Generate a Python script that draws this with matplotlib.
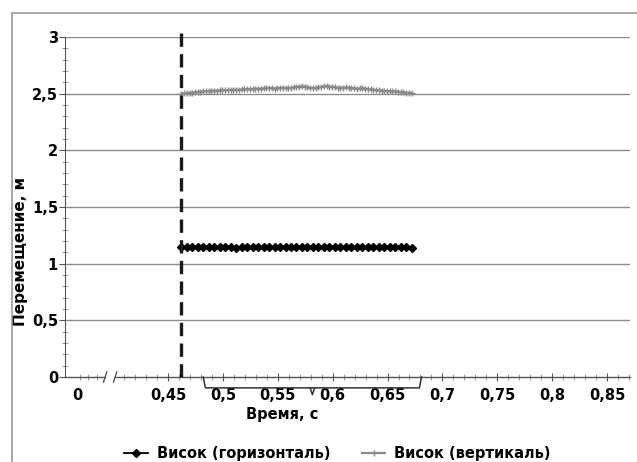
import matplotlib.pyplot as plt
import matplotlib.ticker as mticker
import matplotlib.transforms as mtransforms
from matplotlib.patches import Rectangle
import numpy as np

plt.rcParams['font.family'] = ['DejaVu Sans']
plt.rcParams['font.weight'] = 'bold'

# sample times, s
t_horiz = np.round(np.arange(0.462, 0.6721, 0.005), 4)
t_vert = np.round(np.arange(0.462, 0.6721, 0.0025), 4)

# displacement of the temple, m
horiz = [1.146, 1.148, 1.147, 1.149, 1.146, 1.150, 1.148, 1.146, 1.147, 1.145,
         1.142, 1.146, 1.148, 1.147, 1.146, 1.147, 1.146, 1.148, 1.147, 1.146,
         1.147, 1.148, 1.146, 1.147, 1.150, 1.147, 1.146, 1.147, 1.146, 1.148,
         1.147, 1.146, 1.147, 1.146, 1.148, 1.147, 1.146, 1.149, 1.147, 1.148,
         1.151, 1.146, 1.142]
vert = [2.500, 2.503, 2.505, 2.508, 2.510, 2.512, 2.515, 2.518, 2.520, 2.522,
        2.524, 2.526, 2.525, 2.527, 2.530, 2.531, 2.529, 2.532, 2.534, 2.535,
        2.536, 2.534, 2.537, 2.539, 2.540, 2.538, 2.541, 2.543, 2.545, 2.544,
        2.546, 2.548, 2.550, 2.547, 2.545, 2.548, 2.551, 2.553, 2.550, 2.548,
        2.552, 2.556, 2.560, 2.563, 2.565, 2.562, 2.558, 2.552, 2.549, 2.551,
        2.555, 2.560, 2.564, 2.566, 2.563, 2.560, 2.557, 2.553, 2.550, 2.552,
        2.555, 2.553, 2.549, 2.546, 2.544, 2.546, 2.548, 2.545, 2.541, 2.537,
        2.535, 2.533, 2.530, 2.527, 2.525, 2.524, 2.522, 2.520, 2.521, 2.518,
        2.515, 2.512, 2.510, 2.508, 2.507]

t_event = 0.462
brace_range = (0.482, 0.681)

x_ticks = [0.45, 0.5, 0.55, 0.6, 0.65, 0.7, 0.75, 0.8, 0.85]
x_labels = ['0,45', '0,5', '0,55', '0,6', '0,65', '0,7', '0,75', '0,8', '0,85']
zero_pos = 0.367          # where the "0" label sits before the axis break
brk = (0.3926, 0.4017)    # axis break

fig = plt.figure(figsize=(6.37, 4.62), dpi=100)
ax = fig.add_axes([65 / 637, 1 - 377 / 462, 565 / 637, 340 / 462])

# chart frame
fig.patches.append(Rectangle((12 / 637, -0.1), 1.1, 1 - 13 / 462 + 0.1,
                             transform=fig.transFigure, fill=False,
                             edgecolor='#9a9a9a', lw=1.2))

ax.set_xlim(0.356, 0.871)
ax.set_ylim(0, 3)

for y in np.arange(0.5, 3.01, 0.5):
    ax.axhline(y, color='#8c8c8c', lw=1.0, zorder=1)

ax.plot(t_horiz, horiz, color='black', lw=1.3, marker='D', markersize=3.8,
        label='Висок (горизонталь)', zorder=3)
ax.plot(t_vert, vert, color='#8a8a8a', lw=1.6, marker='+', markersize=4,
        markeredgewidth=1.0, label='Висок (вертикаль)', zorder=3)

ax.axvline(t_event, ymin=0, ymax=1.02, color='#1a1a1a', lw=2.4,
           dashes=(4, 2.2), clip_on=False, zorder=4)

# spines
for s in ['top', 'right', 'bottom']:
    ax.spines[s].set_visible(False)
ax.spines['left'].set_color('#555555')

# broken x axis drawn by hand
ax.plot([0.356, brk[0]], [0, 0], color='#555555', lw=1, clip_on=False)
ax.plot([brk[1], 0.871], [0, 0], color='#555555', lw=1, clip_on=False)
for b in brk:
    ax.plot([b - 0.0015, b + 0.0015], [-0.045, 0.045], color='#555555',
            lw=1, clip_on=False)

# y ticks
ax.yaxis.set_major_locator(mticker.MultipleLocator(0.5))
ax.yaxis.set_minor_locator(mticker.MultipleLocator(0.1))
ax.yaxis.set_major_formatter(mticker.FuncFormatter(
    lambda v, p: ('%g' % v).replace('.', ',')))
ax.tick_params(axis='y', which='major', direction='out', length=4,
               color='#555555', labelsize=10.5, pad=1)
ax.tick_params(axis='y', which='minor', direction='inout', length=4,
               color='#888888')

# x ticks
ax.set_xticks([zero_pos] + x_ticks)
ax.set_xticklabels(['0'] + x_labels)
minor = [0.3695, 0.3769, 0.385] + [round(v, 2) for v in np.arange(0.41, 0.871, 0.01)]
ax.set_xticks(minor, minor=True)
ax.tick_params(axis='x', which='major', direction='inout', length=6,
               color='#555555', labelsize=10.5, pad=5)
ax.tick_params(axis='x', which='minor', direction='inout', length=4,
               color='#888888')
ax.get_xticklines()[0].set_visible(False)
ax.get_xticklines()[1].set_visible(False)

# brace under the axis
trans = mtransforms.blended_transform_factory(ax.transData, ax.transAxes)
b0, b1 = brace_range
bm = (b0 + b1) / 2
yt, yb, ys = 0.0, -0.032, -0.052
ax.plot([b0, b0 + 0.002, b1 - 0.002, b1], [yt, yb, yb, yt], color='#333333',
        lw=1.1, transform=trans, clip_on=False)
ax.plot([bm - 0.002, bm, bm + 0.002], [yb, ys, yb], color='#333333',
        lw=1.1, transform=trans, clip_on=False)

ax.set_ylabel('Перемещение, м', fontsize=11, fontweight='bold')
ax.yaxis.set_label_coords(-0.066, 0.368)
ax.set_xlabel('Время, с', fontsize=10.5, fontweight='bold')
ax.xaxis.set_label_coords((282 - 65) / 565, -0.088)

fig.legend(loc='center', bbox_to_anchor=(0.53, 0.018), ncol=2, frameon=False,
           fontsize=10.5, handlelength=1.6, handletextpad=0.6,
           columnspacing=2.2)

fig.savefig('out.png', dpi=100)
